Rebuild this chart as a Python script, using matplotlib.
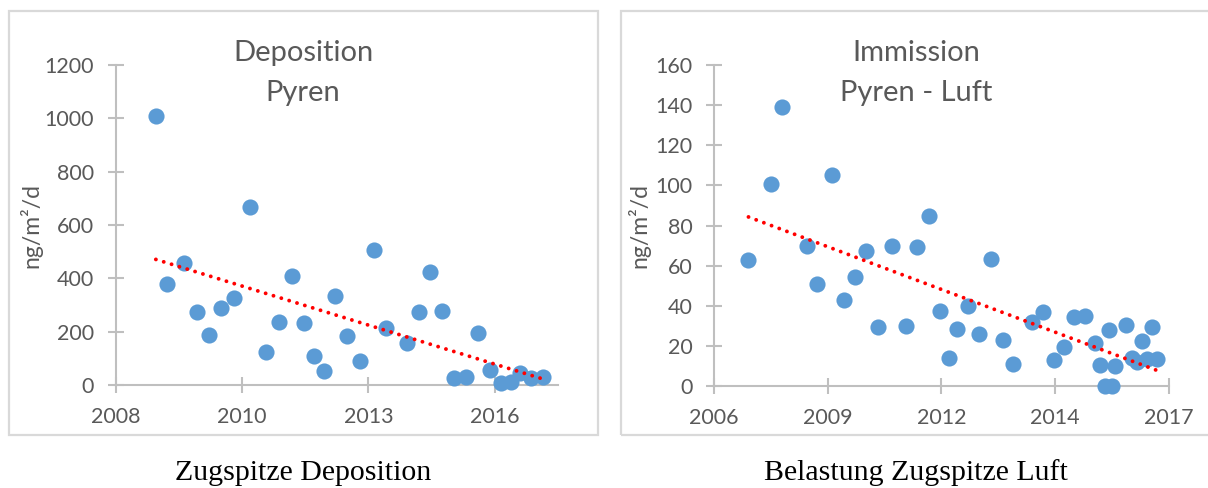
import numpy as np
import matplotlib
matplotlib.use("Agg")
import matplotlib.pyplot as plt
from matplotlib.patches import Rectangle

# ---------------- data ----------------
dep_x = [2008.87, 2009.12, 2009.49, 2009.77, 2010.03, 2010.29, 2010.56, 2010.92,
         2011.26, 2011.53, 2011.81, 2012.07, 2012.30, 2012.51, 2012.75, 2013.02,
         2013.30, 2013.59, 2013.85, 2014.31, 2014.57, 2014.82, 2015.07, 2015.32,
         2015.59, 2015.86, 2016.10, 2016.34, 2016.56, 2016.75, 2017.00, 2017.25]
dep_y = [1010, 380, 458, 274, 188, 290, 327, 668,
         125, 237, 407, 234, 109, 53, 332, 183,
         90, 506, 215, 159, 275, 423, 279, 26,
         31, 195, 55, 8, 11, 46, 28, 29]

imm_x = [2007.33, 2007.86, 2008.13, 2008.73, 2008.98, 2009.33, 2009.63, 2009.89,
         2010.16, 2010.44, 2010.78, 2011.13, 2011.38, 2011.67, 2011.94, 2012.16,
         2012.36, 2012.61, 2012.88, 2013.16, 2013.45, 2013.70, 2014.16, 2014.42,
         2014.68, 2014.93, 2015.17, 2015.44, 2015.66, 2015.78, 2015.91, 2016.00,
         2016.08, 2016.14, 2016.41, 2016.56, 2016.67, 2016.79, 2016.92, 2017.04,
         2017.17]
imm_y = [63, 100.7, 139, 69.8, 50.7, 105, 43, 54.3,
         67.4, 29.6, 69.8, 30, 69.4, 84.9, 37.5, 13.8,
         28.6, 39.9, 25.7, 63.5, 22.8, 10.8, 31.9, 36.9,
         13, 19.6, 34.4, 34.7, 21.4, 10.5, 0, 27.7,
         0, 9.8, 30.4, 14.1, 11.8, 22.4, 13.6, 29.6,
         13.6]

dep_xtick_labels = ["2008", "2010", "2013", "2016"]
imm_xtick_labels = ["2006", "2009", "2012", "2014", "2017"]
dep_yticks = [0, 200, 400, 600, 800, 1000, 1200]
imm_yticks = [0, 20, 40, 60, 80, 100, 120, 140, 160]

dep_title = ["Deposition", "Pyren"]
imm_title = ["Immission", "Pyren - Luft"]
captions = ["Zugspitze Deposition", "Belastung Zugspitze Luft"]
ylabel = "ng/m²/d"

# ---------------- style ----------------
W, H = 1208, 488
DPI = 100
BLUE = "#5B9BD5"
GRAY_TXT = "#595959"
AX_GRAY = "#BFBFBF"
BOX_GRAY = "#D9D9D9"
FONT = ["Lato", "DejaVu Sans"]
SERIF = ["Liberation Serif", "DejaVu Serif"]
STEP = 1000 / 365.25  # Excel date-axis major unit (1000 days)

fig = plt.figure(figsize=(W / DPI, H / DPI), dpi=DPI)
fig.patch.set_facecolor("white")


def px_rect(x0, y0, x1, y1):
    return [x0 / W, 1 - y1 / H, (x1 - x0) / W, (y1 - y0) / H]


def panel(rect, xs, ys, xstart, nint_ticks, xend_int, xlabels, yticks, title, title_cx, ylab_fx):
    ax = fig.add_axes(rect)
    ax.set_facecolor("none")
    ticks = [xstart + k * STEP for k in range(nint_ticks)]
    ax.set_xlim(xstart, xstart + xend_int * STEP)
    ax.set_ylim(yticks[0], yticks[-1])
    ax.set_xticks(ticks)
    ax.set_xticklabels(xlabels)
    ax.set_yticks(yticks)
    for s in ["top", "right"]:
        ax.spines[s].set_visible(False)
    for s in ["left", "bottom"]:
        ax.spines[s].set_color(AX_GRAY)
        ax.spines[s].set_linewidth(1.5)
    ax.tick_params(axis="both", direction="inout", length=11, width=1.5,
                   color=AX_GRAY, labelcolor=GRAY_TXT, labelsize=15.5)
    ax.tick_params(axis="y", pad=10)
    ax.tick_params(axis="x", pad=10)
    for lab in ax.get_xticklabels() + ax.get_yticklabels():
        lab.set_family(FONT)

    ax.scatter(xs, ys, s=135, color=BLUE, zorder=3, linewidths=0, clip_on=False)
    coef = np.polyfit(xs, ys, 1)
    tx = np.array([min(xs), max(xs)])
    ax.plot(tx, np.polyval(coef, tx), color="#FF0000", linewidth=2.8,
            linestyle=(0, (0.01, 2.1)), dash_capstyle="round", zorder=4)

    ax.set_ylabel(ylabel, fontsize=16.5, color=GRAY_TXT, family=FONT)
    ax.yaxis.set_label_coords(ylab_fx, 0.5)

    fig.text(title_cx / W, 1 - 53 / H, title[0], ha="center", va="center",
             fontsize=21, color=GRAY_TXT, family=FONT)
    fig.text(title_cx / W, 1 - 93 / H, title[1], ha="center", va="center",
             fontsize=21, color=GRAY_TXT, family=FONT)
    return ax


# chart frames
fig.add_artist(Rectangle((8.5 / W, 1 - 435 / H), (598 - 8.5) / W, (435 - 11) / H,
                         transform=fig.transFigure, fill=False, edgecolor=BOX_GRAY, linewidth=1.6))
fig.add_artist(Rectangle((621 / W, 1 - 435 / H), (1215 - 621) / W, (435 - 11) / H,
                         transform=fig.transFigure, fill=False, edgecolor=BOX_GRAY, linewidth=1.6,
                         clip_on=False))

ax1 = panel(px_rect(115.7, 65, 558, 385), dep_x, dep_y, 2008.0, 4, 3.5,
            dep_xtick_labels, dep_yticks, dep_title, 303, -0.165)
ax2 = panel(px_rect(714, 65, 1169, 386), imm_x, imm_y, 2006.5, 5, 4.0,
            imm_xtick_labels, imm_yticks, imm_title, 916, -0.14)

fig.text(303 / W, 1 - 473 / H, captions[0], ha="center", va="center",
         fontsize=21.5, color="black", family=SERIF)
fig.text(916 / W, 1 - 473 / H, captions[1], ha="center", va="center",
         fontsize=21.5, color="black", family=SERIF)

fig.savefig("out.png", dpi=DPI)
